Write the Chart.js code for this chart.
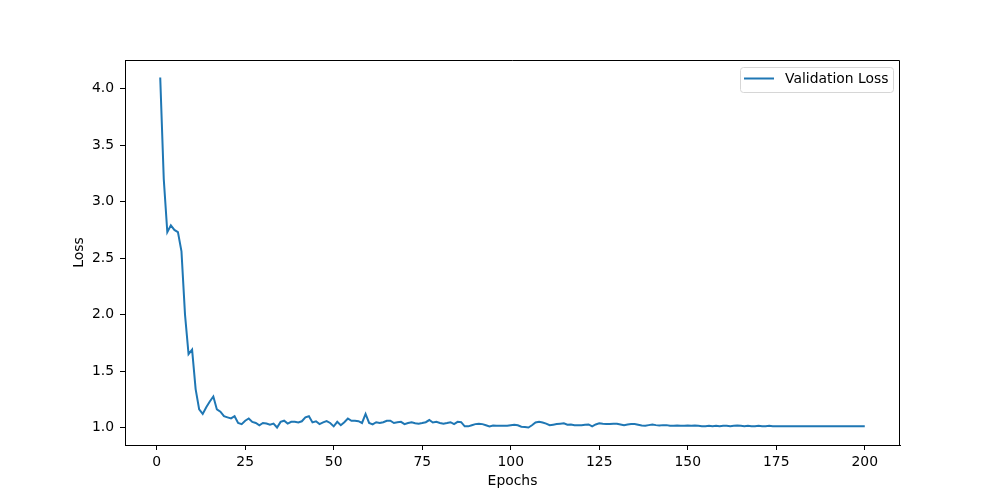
<!DOCTYPE html>
<html>
<head>
<meta charset="utf-8">
<script src="https://cdn.jsdelivr.net/npm/chart.js@4"></script>
<style>
  html, body { margin: 0; padding: 0; background: #fff; }
  #wrap { width: 1000px; height: 500px; }
</style>
</head>
<body>
<div id="wrap"><canvas id="lossChart" width="1000" height="500"></canvas></div>
<script>
// values
const epochs = Array.from({ length: 200 }, (_, i) => i + 1);
const valLoss = [
    4.10, 3.20, 2.73, 2.79, 2.75, 2.73, 2.56, 2.00, 1.65, 1.69,
    1.34, 1.16, 1.12, 1.18, 1.23, 1.275, 1.16, 1.14, 1.10, 1.09,
    1.08, 1.10, 1.04, 1.03, 1.06, 1.08, 1.05, 1.04, 1.02, 1.04,
    1.035, 1.025, 1.035, 1.00, 1.05, 1.06, 1.035, 1.05, 1.05, 1.045,
    1.055, 1.09, 1.10, 1.045, 1.055, 1.03, 1.045, 1.056, 1.04, 1.01,
    1.05, 1.02, 1.047, 1.08, 1.06, 1.06, 1.056, 1.04, 1.12, 1.04,
    1.027, 1.047, 1.04, 1.047, 1.06, 1.06, 1.04, 1.047, 1.05, 1.03,
    1.04, 1.047, 1.037, 1.034, 1.04, 1.047, 1.066, 1.044, 1.05, 1.04,
    1.034, 1.04, 1.047, 1.03, 1.05, 1.047, 1.01, 1.01, 1.02, 1.03,
    1.034, 1.03, 1.02, 1.01, 1.018, 1.015, 1.015, 1.015, 1.015, 1.02,
    1.025, 1.02, 1.007, 1.004, 1.00, 1.02, 1.044, 1.05, 1.044, 1.034,
    1.02, 1.025, 1.03, 1.034, 1.037, 1.025, 1.027, 1.02, 1.02, 1.02,
    1.024, 1.027, 1.01, 1.027, 1.037, 1.033, 1.03, 1.03, 1.033, 1.033,
    1.027, 1.021, 1.027, 1.03, 1.03, 1.024, 1.018, 1.015, 1.021, 1.027,
    1.021, 1.018, 1.021, 1.021, 1.015, 1.015, 1.018, 1.015, 1.015, 1.018,
    1.015, 1.018, 1.015, 1.012, 1.012, 1.015, 1.012, 1.015, 1.012, 1.015,
    1.015, 1.012, 1.015, 1.018, 1.015, 1.012, 1.015, 1.012, 1.012, 1.015,
    1.012, 1.012, 1.015, 1.012, 1.012, 1.01, 1.012, 1.01, 1.01, 1.012,
    1.012, 1.01, 1.012, 1.012, 1.01, 1.012, 1.01, 1.012, 1.01, 1.01,
    1.012, 1.01, 1.01, 1.012, 1.01, 1.01, 1.01, 1.01, 1.01, 1.01
];
const xTicks = [0, 25, 50, 75, 100, 125, 150, 175, 200];
const yTicks = [1.0, 1.5, 2.0, 2.5, 3.0, 3.5, 4.0];
const seriesLabel = 'Validation Loss';

const lineColor = '#1f77b4';
const font = { family: 'DejaVu Sans', size: 13.9 };

// top/right spines + matplotlib-style legend box
const framePlugin = {
    id: 'frame',
    afterDraw(chart) {
        const { ctx, chartArea: a } = chart;
        ctx.save();
        ctx.strokeStyle = '#000';
        ctx.lineWidth = 1;
        ctx.beginPath();
        ctx.moveTo(a.left, a.top + 0.5);
        ctx.lineTo(a.right - 0.5, a.top + 0.5);
        ctx.lineTo(a.right - 0.5, a.bottom);
        ctx.stroke();

        // legend
        const bx = 740.5, by = 67.5, bw = 153, bh = 25, r = 3;
        ctx.beginPath();
        ctx.moveTo(bx + r, by);
        ctx.arcTo(bx + bw, by, bx + bw, by + bh, r);
        ctx.arcTo(bx + bw, by + bh, bx, by + bh, r);
        ctx.arcTo(bx, by + bh, bx, by, r);
        ctx.arcTo(bx, by, bx + bw, by, r);
        ctx.closePath();
        ctx.fillStyle = 'rgba(255,255,255,0.8)';
        ctx.fill();
        ctx.strokeStyle = '#d6d6d6';
        ctx.stroke();

        ctx.strokeStyle = lineColor;
        ctx.lineWidth = 2;
        ctx.beginPath();
        ctx.moveTo(744, 78.5);
        ctx.lineTo(774, 78.5);
        ctx.stroke();

        ctx.fillStyle = '#000';
        ctx.font = `${font.size}px ${font.family}`;
        ctx.textBaseline = 'middle';
        ctx.textAlign = 'left';
        ctx.fillText(seriesLabel, 785, 79);
        ctx.restore();
    }
};

const ctx = document.getElementById('lossChart').getContext('2d');
new Chart(ctx, {
    type: 'line',
    data: {
        datasets: [{
            label: seriesLabel,
            data: epochs.map((e, i) => ({ x: e, y: valLoss[i] })),
            borderColor: lineColor,
            borderWidth: 2,
            pointRadius: 0,
            tension: 0,
            fill: false
        }]
    },
    options: {
        responsive: false,
        animation: false,
        layout: { padding: { top: 60, right: 100, left: 0, bottom: 0 } },
        plugins: {
            legend: { display: false },
            tooltip: { enabled: false }
        },
        scales: {
            x: {
                type: 'linear',
                min: -8.95,
                max: 209.95,
                afterBuildTicks: scale => { scale.ticks = xTicks.map(v => ({ value: v })); },
                afterFit: scale => { scale.height = 55; },
                grid: { drawOnChartArea: false, tickColor: '#000', tickLength: 5 },
                border: { color: '#000', width: 1 },
                ticks: { color: '#000', font, padding: 4, maxRotation: 0, callback: v => String(v) },
                title: { display: true, text: 'Epochs', color: '#000', font, padding: { top: 0, bottom: 10 } }
            },
            y: {
                min: 0.845,
                max: 4.255,
                afterBuildTicks: scale => { scale.ticks = yTicks.map(v => ({ value: v })); },
                afterFit: scale => { scale.width = 125; },
                grid: { drawOnChartArea: false, tickColor: '#000', tickLength: 5 },
                border: { color: '#000', width: 1 },
                ticks: { color: '#000', font, padding: 6, callback: v => Number(v).toFixed(1) },
                title: { display: true, text: 'Loss', color: '#000', font, padding: { top: 71, bottom: 0 } }
            }
        }
    },
    plugins: [framePlugin]
});
</script>
</body>
</html>
